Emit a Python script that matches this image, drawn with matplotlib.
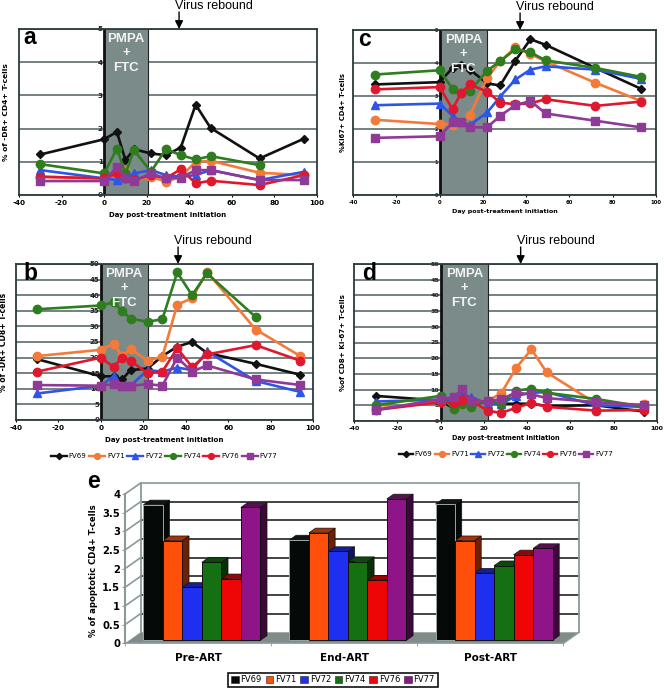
import matplotlib
matplotlib.use("Agg")
import matplotlib.pyplot as plt
from matplotlib.patches import Polygon, Rectangle
from matplotlib.lines import Line2D
from matplotlib.colors import to_rgb

W, H = 664, 689

names = ['FV69', 'FV71', 'FV72', 'FV74', 'FV76', 'FV77']
colors = ['#111111', '#f47a3a', '#2f55e8', '#2e7d1e', '#e0182d', '#8e3a96']
markers = ['D', 'o', '^', 'o', 'o', 's']
msizes = [4.5, 6, 5.5, 6, 6, 5.5]
xtick_vals = [-40, -20, 0, 20, 40, 60, 80, 100]

# panel a
days_a = [-30, 0, 6, 10, 14, 22, 29, 36, 43, 50, 73, 94]
a_fv69 = [1.22, 1.68, 1.9, 1.05, 1.38, 1.25, 1.2, 1.43, 2.72, 2.02, 1.1, 1.7]
a_fv71 = [0.55, 0.5, 0.65, 0.75, 0.42, 0.55, 0.4, 0.55, 1.0, 1.03, 0.67, 0.6]
a_fv72 = [0.75, 0.5, 0.45, 0.5, 0.65, 0.75, 0.6, 0.55, 0.6, 0.75, 0.45, 0.7]
a_fv74 = [0.93, 0.65, 1.4, 0.65, 1.35, 0.7, 1.38, 1.2, 1.07, 1.17, 0.9]
a_fv76 = [0.55, 0.5, 0.65, 0.5, 0.45, 0.6, 0.5, 0.78, 0.35, 0.43, 0.3, 0.6]
a_fv77 = [0.42, 0.42, 0.85, 0.5, 0.42, 0.65, 0.5, 0.52, 0.75, 0.75, 0.45, 0.45]

# panel b
days_b = [-30, 0, 6, 10, 14, 22, 29, 36, 43, 50, 73, 94]
b_fv69 = [19.5, 14, 14, 13, 16, 16.5, 20.5, 23.5, 25, 21.5, 18, 14.5]
b_fv71 = [20.5, 22.5, 24.5, 20.5, 22.8, 19, 20.3, 37, 39, 47.5, 29, 20.5]
b_fv72 = [8.5, 11, 14, 11, 11, 16, 15.5, 16.8, 16, 22, 12.5, 9]
b_fv74 = [35.5, 36.7, 37.7, 35, 32.5, 31.5, 32.3, 47.3, 40, 47, 33]
b_fv76 = [15.5, 20, 17, 20, 19, 15, 15.5, 23, 17, 21, 24, 19]
b_fv77 = [11.2, 11, 11.5, 11, 11, 11.5, 11, 20, 15.5, 17.5, 13, 11.2]

# panel c
days_c = [-30, 0, 6, 10, 14, 22, 28, 35, 42, 49, 72, 93]
c_fv69 = [3.35, 3.42, 3.85, 3.95, 3.8, 3.38, 3.32, 4.07, 4.72, 4.55, 3.85, 3.22]
c_fv71 = [2.28, 2.15, 2.12, 2.22, 2.42, 3.55, 4.05, 4.47, 4.27, 4.05, 3.4, 2.85]
c_fv72 = [2.72, 2.77, 2.4, 2.2, 2.12, 2.5, 2.98, 3.5, 3.8, 3.9, 3.8, 3.52]
c_fv74 = [3.65, 3.78, 3.22, 3.1, 3.15, 3.77, 4.05, 4.42, 4.32, 4.08, 3.85, 3.58]
c_fv76 = [3.2, 3.27, 2.6, 3.1, 3.35, 3.13, 2.8, 2.75, 2.78, 2.9, 2.7, 2.83]
c_fv77 = [1.73, 1.78, 2.2, 2.22, 2.05, 2.05, 2.4, 2.72, 2.85, 2.47, 2.25, 2.05]

# panel d
days_d = [-30, 0, 6, 10, 14, 22, 28, 35, 42, 49, 72, 94]
d_fv69 = [8, 6.5, 4, 8, 6, 6, 5.5, 5.5, 5.5, 4.8, 5, 3]
d_fv71 = [4, 6, 7, 9, 6, 6.5, 8.8, 17, 22.8, 15.5, 5.5, 5.3]
d_fv72 = [6.2, 6.8, 6.5, 8.5, 7.5, 5.5, 5.5, 8, 9, 9.2, 5, 4.5]
d_fv74 = [5, 8, 3.8, 5.5, 4.5, 6.5, 5.5, 9.7, 10.3, 9, 7, 4.5]
d_fv76 = [3.5, 6, 5.8, 6.8, 6.5, 3.2, 2.6, 4.2, 5.8, 4.5, 3.3, 3.5]
d_fv77 = [3.5, 7, 7.5, 10.2, 6.3, 6.3, 7, 9, 8.5, 7.3, 6, 5]

# panel e
groups = ['Pre-ART', 'End-ART', 'Post-ART']
e_fv69 = [3.63, 2.69, 3.65]
e_fv71 = [2.67, 2.88, 2.67]
e_fv72 = [1.42, 2.38, 1.80]
e_fv74 = [2.09, 2.11, 2.00]
e_fv76 = [1.65, 1.61, 2.29]
e_fv77 = [3.56, 3.79, 2.46]
e_colors = ['#050a08', '#ff4f0a', '#1f2ff0', '#147010', '#ee0505', '#8f1488']

fig = plt.figure(figsize=(W / 100, H / 100), dpi=100)


def px_axes(left, top, right, bottom):
    return fig.add_axes([left / W, 1 - bottom / H, (right - left) / W, (bottom - top) / H])


def line_panel(box, days, series, ymax, ystep, ylabel, letter, letter_dx, rebound, drug_end, tick_fs,
               xtick_fs, xlab_fs, ylab_fs, ylab_x, xlab_y):
    left, top, right, bottom = box
    ax = px_axes(left, top, right, bottom)
    # y tick labels sit on the x=0 line, this has to come before the ticks are set
    ax.spines['left'].set_position(('data', 0))
    ax.spines['left'].set_visible(False)
    ax.set_xlim(-40, 100)
    ax.set_ylim(0, ymax)
    ax.set_xticks(xtick_vals)
    ax.set_xticklabels([str(v) for v in xtick_vals], fontweight='bold', fontsize=xtick_fs)
    yvals = list(range(0, ymax + 1, ystep))
    ax.set_yticks(yvals)
    ax.set_yticklabels([str(v) for v in yvals], fontweight='bold', fontsize=tick_fs, color='#222222')
    ax.yaxis.grid(True, color='#4f5f5f', lw=1.1, zorder=1)
    ax.set_axisbelow(True)
    ax.axvspan(0, drug_end, color='#7b8b89', zorder=1.5, lw=0)
    ax.axvline(drug_end, color='#222222', lw=0.8, zorder=1.6)
    ax.axvline(0, color='#111111', lw=2, zorder=1.6)
    for i, vals in enumerate(series):
        ax.plot(days[:len(vals)], vals, color=colors[i], marker=markers[i], ms=msizes[i], lw=1.9,
                zorder=3 + i * 0.1, clip_on=False)
    for s in ax.spines.values():
        s.set_linewidth(1.3)
        s.set_color('#2a3a3a')
    ax.tick_params(axis='y', length=0, pad=1)
    ax.tick_params(axis='x', direction='out', length=1.5, pad=2)
    ax.axvline(-40, color='#2a3a3a', lw=1.3, clip_on=False, zorder=2)
    ax.set_xlabel('Day post-treatment initiation', fontsize=xlab_fs, fontweight='bold')
    ax.xaxis.set_label_coords(0.5, -(xlab_y - bottom) / (bottom - top), transform=ax.transAxes)
    ax.xaxis.label.set_va('center')
    ax.set_ylabel(ylabel, fontsize=ylab_fs, fontweight='bold')
    ax.yaxis.set_label_coords((ylab_x - left) / (right - left), 0.5)
    ax.yaxis.label.set_va('center')

    # PMPA + FTC box text
    for txt, dy in zip(['PMPA', '+', 'FTC'], [10, 24, 39]):
        ax.annotate(txt, xy=(drug_end / 2, ymax), xycoords='data', xytext=(0, -dy), textcoords='offset pixels',
                    ha='center', va='center', color='#f2f4f4', fontsize=9.5, fontweight='bold',
                    family='Liberation Sans', zorder=6)
    ax.annotate(letter, xy=(-40, ymax), xycoords='data', xytext=(letter_dx, -9), textcoords='offset pixels',
                fontsize=16.5, fontweight='bold', family='Liberation Sans', ha='left', va='center', zorder=7)
    ax.annotate('', xy=(rebound, ymax), xytext=(0, 17), xycoords='data', textcoords='offset pixels',
                arrowprops=dict(arrowstyle='-|>', color='black', lw=1, mutation_scale=12,
                                shrinkA=0, shrinkB=0), annotation_clip=False)
    ax.annotate('Virus rebound', xy=(rebound, ymax), xytext=(35, 23), xycoords='data',
                textcoords='offset pixels', ha='center', va='center', fontsize=9,
                family='Liberation Sans', annotation_clip=False)
    return ax


def line_legend(cx, cy, hlen):
    handles = [Line2D([], [], color=colors[i], marker=markers[i], ms=msizes[i] * 0.7, lw=1.7)
               for i in range(6)]
    fig.legend(handles, names, loc='center', bbox_to_anchor=(cx / W, 1 - cy / H), ncol=6, frameon=False,
               handlelength=hlen, handletextpad=0.3, columnspacing=0.35, prop={'family': 'DejaVu Sans', 'size': 5})


line_panel((19, 29, 317, 195), days_a, [a_fv69, a_fv71, a_fv72, a_fv74, a_fv76, a_fv77], 5, 1,
           '% of -DR+ CD4+ T-cells', 'a', 4, 35.2, 20.5, 5.2, 5.2, 5, 5.4, 6, 215)
line_panel((353, 30, 656, 195), days_c, [c_fv69, c_fv71, c_fv72, c_fv74, c_fv76, c_fv77], 5, 1,
           '%Ki67+ CD4+ T-cells', 'c', 5, 37.2, 22, 3.5, 3.8, 4.55, 4.9, 343, 212)
line_panel((16, 264, 313, 420), days_b, [b_fv69, b_fv71, b_fv72, b_fv74, b_fv76, b_fv77], 50, 5,
           '% of -DR+ CD8+ T-cells', 'b', 7, 36.4, 22, 5, 5.2, 5.1, 5.5, 4, 440)
line_panel((354, 264, 657, 421), days_d, [d_fv69, d_fv71, d_fv72, d_fv74, d_fv76, d_fv77], 50, 5,
           '%of CD8+ Ki-67+ T-cells', 'd', 8, 37, 22, 4.6, 4.5, 4.7, 5.1, 343, 438)
line_legend(164, 456, 2.3)
line_legend(506, 454, 2.0)

# panel e, 3D look drawn in front-plane data coords
ax = px_axes(125, 494, 563.3, 643.3)
ax.set_xlim(0, 3)
ax.set_ylim(0, 4)
ux = 3 / 1315  # one pixel of the 3x zoom, in category units
uy = 4 / 448
wall_dx, wall_dy = 47 * ux, 33 * uy
bar_dx, bar_dy = 11.4 * ux, 9 * uy
depth_dx, depth_dy = 20 * ux, 14 * uy
wall_col = '#8a9a9a'

ax.add_patch(Polygon([(0, 0), (3, 0), (3 + wall_dx, wall_dy), (wall_dx, wall_dy)], closed=True,
                     fc='#7f8c8a', ec='none', clip_on=False, zorder=1))
grid_vals = [0.5 * k for k in range(1, 9)]
for v in grid_vals:
    col = wall_col if v == 4 else '#222222'
    ax.plot([wall_dx, 3 + wall_dx], [v + wall_dy, v + wall_dy], color=col, lw=1.2, clip_on=False, zorder=1)
    ax.plot([0, wall_dx], [v, v + wall_dy], color=wall_col, lw=1.2, clip_on=False, zorder=1)
ax.plot([wall_dx, wall_dx], [wall_dy, 4 + wall_dy], color=wall_col, lw=1.3, clip_on=False, zorder=1)
ax.plot([3 + wall_dx, 3 + wall_dx], [wall_dy, 4 + wall_dy], color=wall_col, lw=1.3, clip_on=False, zorder=1)
ax.plot([0, 3], [0, 0], color=wall_col, lw=1.2, clip_on=False, zorder=2)
ax.plot([0, 0], [0, 4], color=wall_col, lw=1.5, clip_on=False, zorder=2)
ax.plot([3, 3 + wall_dx], [0, wall_dy], color=wall_col, lw=1.2, clip_on=False, zorder=2)


def shade(c, f):
    return tuple(x * f for x in to_rgb(c))


bw = 351 * ux / 6
for g in range(3):
    for i, vals in enumerate([e_fv69, e_fv71, e_fv72, e_fv74, e_fv76, e_fv77]):
        x0 = g + 0.5 + (i - 3) * bw + bar_dx
        x1 = x0 + bw
        y1 = vals[g] + bar_dy
        ax.add_patch(Polygon([(x1, bar_dy), (x1 + depth_dx, bar_dy + depth_dy), (x1 + depth_dx, y1 + depth_dy),
                              (x1, y1)], closed=True, fc=shade(e_colors[i], 0.42) if i else '#050808',
                             ec='#111111', lw=0.5, clip_on=False, zorder=3))
        ax.add_patch(Polygon([(x0, y1), (x0 + depth_dx, y1 + depth_dy), (x1 + depth_dx, y1 + depth_dy), (x1, y1)],
                             closed=True, fc=shade(e_colors[i], 0.65) if i else '#101512',
                             ec='#111111', lw=0.5, clip_on=False, zorder=3))
        ax.bar(x0, vals[g], bw, bottom=bar_dy, align='edge', color=e_colors[i],
               edgecolor='#9aa5a5' if i == 0 else '#111111', lw=0.7, zorder=4, clip_on=False)

for s in ax.spines.values():
    s.set_visible(False)
ax.patch.set_alpha(0)
ax.set_yticks([0.5 * k for k in range(9)])
ax.set_yticklabels(['0', '0.5', '1', '1.5', '2', '2.5', '3', '3.5', '4'], fontsize=7.2, fontweight='bold')
ax.tick_params(axis='y', length=2, pad=1.5, color=wall_col)
ax.set_xticks([0.5, 1.5, 2.5])
ax.set_xticklabels(groups, fontsize=7.5, fontweight='bold')
ax.tick_params(axis='x', length=0, pad=7)
ax.set_xticks([0, 1, 2, 3], minor=True)
ax.tick_params(axis='x', which='minor', length=2, color=wall_col)
ax.set_ylabel('% of apoptotic CD4+ T-cells', fontsize=6.1, fontweight='bold')
ax.yaxis.set_label_coords((93 - 125) / 438.3, 0.49)
ax.yaxis.label.set_va('center')

fig.text(87 / W, 1 - 481 / H, 'e', fontsize=16.5, fontweight='bold', family='Liberation Sans', va='center')

handles = [Rectangle((0, 0), 1, 1, fc=c, ec='#222222', lw=0.4) for c in e_colors]
leg = fig.legend(handles, names, loc='center', bbox_to_anchor=(333 / W, 1 - 680 / H), ncol=6, fancybox=False,
                 framealpha=1, edgecolor='#111111', fontsize=6, handlelength=0.9, handleheight=0.9,
                 handletextpad=0.25, columnspacing=0.45, borderpad=0.35)
leg.get_frame().set_linewidth(1.2)

fig.savefig('out.png', dpi=100)
